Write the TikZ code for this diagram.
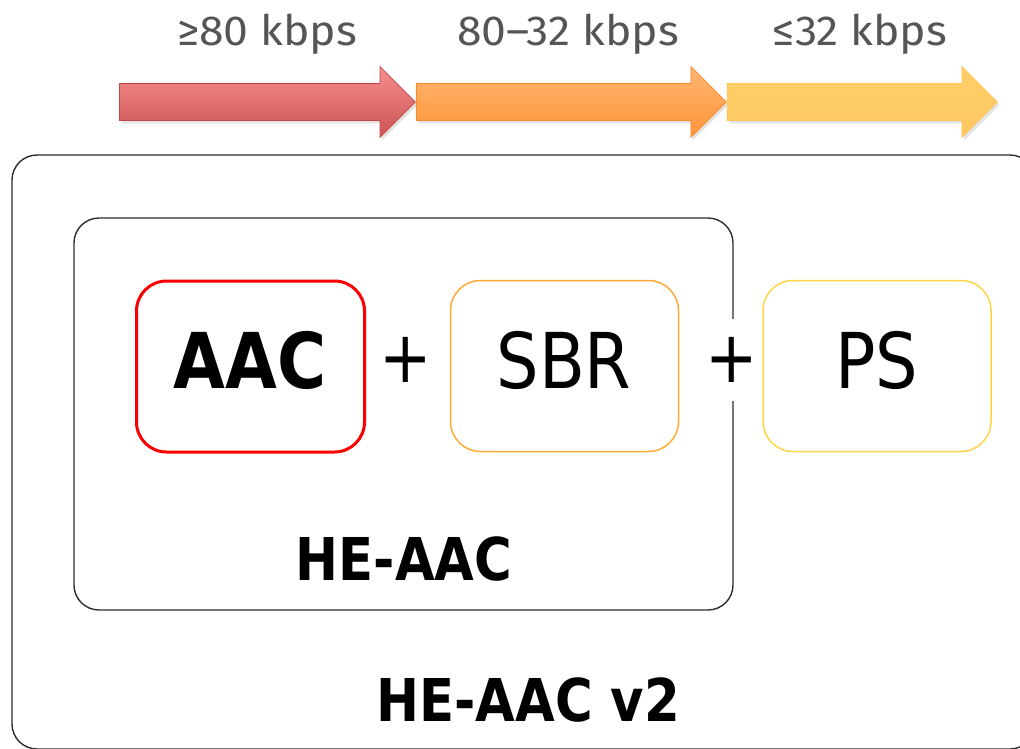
\documentclass[tikz,border=0pt]{standalone}
\usepackage{fontspec}
\setmainfont{DejaVu Sans}
\newfontfamily\boxfont[FakeStretch=0.87]{DejaVu Sans}
\newfontfamily\ratefont[FakeStretch=1.06]{Fira Sans}
\usetikzlibrary{shapes.arrows,shadows}

\definecolor{redtop}{RGB}{247,143,143}
\definecolor{redbot}{RGB}{204,82,82}
\definecolor{redline}{RGB}{192,72,72}
\definecolor{orgtop}{RGB}{255,182,112}
\definecolor{orgbot}{RGB}{255,148,56}
\definecolor{orgline}{RGB}{245,140,50}
\definecolor{yeltop}{RGB}{255,206,104}
\definecolor{yelbot}{RGB}{255,200,96}
\definecolor{yelline}{RGB}{255,198,90}
\definecolor{aacred}{RGB}{250,0,0}
\definecolor{sbrorange}{RGB}{255,170,50}
\definecolor{psyellow}{RGB}{255,212,70}
\definecolor{frameline}{RGB}{45,45,45}
\definecolor{rategray}{RGB}{85,85,85}

\begin{document}
\begin{tikzpicture}[x=1pt,y=-1pt,
  ratearrow/.style={single arrow, inner xsep=0pt, inner ysep=18pt,
    single arrow head extend=17pt, single arrow head indent=0pt,
    line width=0.8pt, anchor=tail,
    drop shadow={opacity=0.22, shadow xshift=2pt, shadow yshift=-3pt}},
  ratelabel/.style={anchor=base, text=rategray,
    font=\ratefont\fontsize{42}{42}\selectfont},
  frame/.style={draw=frameline, line width=1.4pt, rounded corners=25pt,
    inner sep=0pt},
  toolbox/.style={rounded corners=30pt, inner sep=0pt,
    minimum width=228pt, minimum height=171pt},
  boxtext/.style={font=\boxfont\fontsize{77}{77}\selectfont},
  plus/.style={fill=white, inner sep=0pt, minimum width=46pt,
    minimum height=82pt, font=\boxfont\fontsize{72}{72}\selectfont},
  title/.style={font=\boxfont\bfseries\fontsize{59}{59}\selectfont}]
\useasboundingbox (0,0) rectangle (1020,748);

% bit-rate ranges
\node[ratearrow, minimum height=296pt, top color=redtop, bottom color=redbot,
  draw=redline] (rhigh) at (119,102) {};
\node[ratearrow, minimum height=310pt, top color=orgtop, bottom color=orgbot,
  draw=orgline] (rmid) at (rhigh.tip) {};
\node[ratearrow, minimum height=270pt, top color=yeltop, bottom color=yelbot,
  draw=yelline] (rlow) at (rmid.tip) {};

\node[ratelabel] (lhigh) at (267,45) {≥80 kbps};
\node[ratelabel] (lmid) at (568,45) {80–32 kbps};
\node[ratelabel] (llow) at (860,45) {≤32 kbps};

% profile frames
\node[frame, minimum width=1023pt, minimum height=594pt] (v2) at (523.5,452) {};
\node[frame, minimum width=659pt, minimum height=392pt] (he) at (403.5,414) {};

% coding tools
\node[toolbox, draw=aacred, line width=3pt] (aac) at (250.5,366.5) {};
\node[toolbox, draw=sbrorange, line width=1.5pt] (sbr) at (564.5,366) {};
\node[toolbox, draw=psyellow, line width=1.5pt] (ps) at (877,366) {};

\node[boxtext, font=\boxfont\bfseries\fontsize{77}{77}\selectfont] (aact) at (250,360) {AAC};
\node[boxtext] (sbrt) at (564,360) {SBR};
\node[boxtext] (pst) at (877,360) {PS};

\node[plus] (plusa) at (405.5,360) {+};
\node[plus] (plusb) at (732,360) {+};

% profile names
\node[title] (het) at (404,559) {HE-AAC};
\node[title] (v2t) at (528,700) {HE-AAC v2};
\end{tikzpicture}
\end{document}
